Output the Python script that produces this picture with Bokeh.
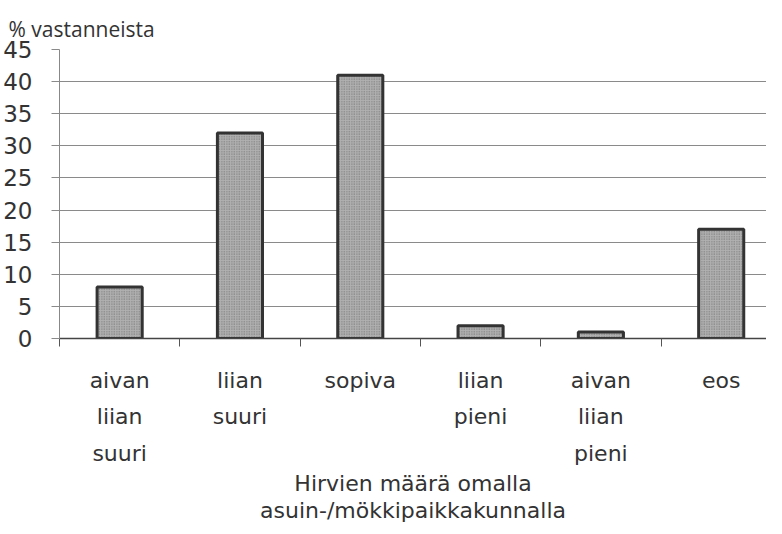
from bokeh.plotting import figure
from bokeh.models import FixedTicker, Title
from bokeh.embed import file_html
from bokeh.resources import INLINE

categories = ["aivan\nliian\nsuuri", "liian\nsuuri", "sopiva", "liian\npieni", "aivan\nliian\npieni", "eos"]
values = [8, 32, 41, 2, 1, 17]
y_ticks = [0, 5, 10, 15, 20, 25, 30, 35, 40, 45]
y_title = "% vastanneista"
x_title = "Hirvien määrä omalla\nasuin-/mökkipaikkakunnalla"

centers = [i + 0.5 for i in range(len(categories))]
bounds = list(range(len(categories) + 1))

p = figure(width=766, height=526, output_backend="svg", toolbar_location=None,
           x_range=(0, 714 / 121.5), y_range=(0, 45),
           min_border_left=52, min_border_right=0, min_border_top=49, min_border_bottom=188)
p.outline_line_color = None
p.background_fill_color = "white"
p.border_fill_color = "white"

p.vbar(x=centers, top=values, width=0.375, bottom=0,
       fill_color="#b0b0b0", hatch_pattern="dot", hatch_color="#6e6e6e",
       hatch_scale=2.5, hatch_weight=1,
       line_color="#333333", line_width=3)

# y axis
p.yaxis.ticker = FixedTicker(ticks=y_ticks)
p.yaxis.axis_line_color = "#888888"
p.yaxis.major_tick_line_color = "#8a8a8a"
p.yaxis.major_tick_out = 8
p.yaxis.major_tick_in = 0
p.yaxis.minor_tick_line_color = None
p.yaxis.major_label_text_font = "DejaVu Sans"
p.yaxis.major_label_text_font_size = "23px"
p.yaxis.major_label_text_color = "#333333"
p.yaxis.major_label_standoff = 19

p.ygrid.ticker = FixedTicker(ticks=y_ticks)
p.ygrid.grid_line_color = "#8a8a8a"
p.ygrid.grid_line_width = 1
p.xgrid.grid_line_color = None

# x axis
p.xaxis.ticker = FixedTicker(ticks=centers, minor_ticks=bounds)
p.xaxis.major_label_overrides = {c: lab for c, lab in zip(centers, categories)}
p.xaxis.major_tick_line_color = None
p.xaxis.major_tick_out = 0
p.xaxis.major_tick_in = 0
p.xaxis.minor_tick_line_color = "#555555"
p.xaxis.minor_tick_out = 8
p.xaxis.minor_tick_in = 0
p.xaxis.axis_line_color = "#444444"
p.xaxis.axis_line_width = 1.5
p.xaxis.major_label_text_font = "DejaVu Sans"
p.xaxis.major_label_text_font_size = "22px"
p.xaxis.major_label_text_color = "#333333"
p.xaxis.major_label_text_line_height = 1.47
p.xaxis.major_label_standoff = 21
p.xaxis.axis_label = x_title
p.xaxis.axis_label_text_font = "DejaVu Sans"
p.xaxis.axis_label_text_font_style = "normal"
p.xaxis.axis_label_text_font_size = "22px"
p.xaxis.axis_label_text_color = "#333333"
p.xaxis.axis_label_text_line_height = 1.08
p.xaxis.axis_label_standoff = 2

t = Title(text=y_title, align="left", offset=-51, standoff=10, vertical_align="top",
          text_font="Open Sans", text_font_size="21px", text_font_style="normal",
          text_color="#333333")
p.add_layout(t, "above")

open("out.html", "w").write(file_html(p, INLINE))
